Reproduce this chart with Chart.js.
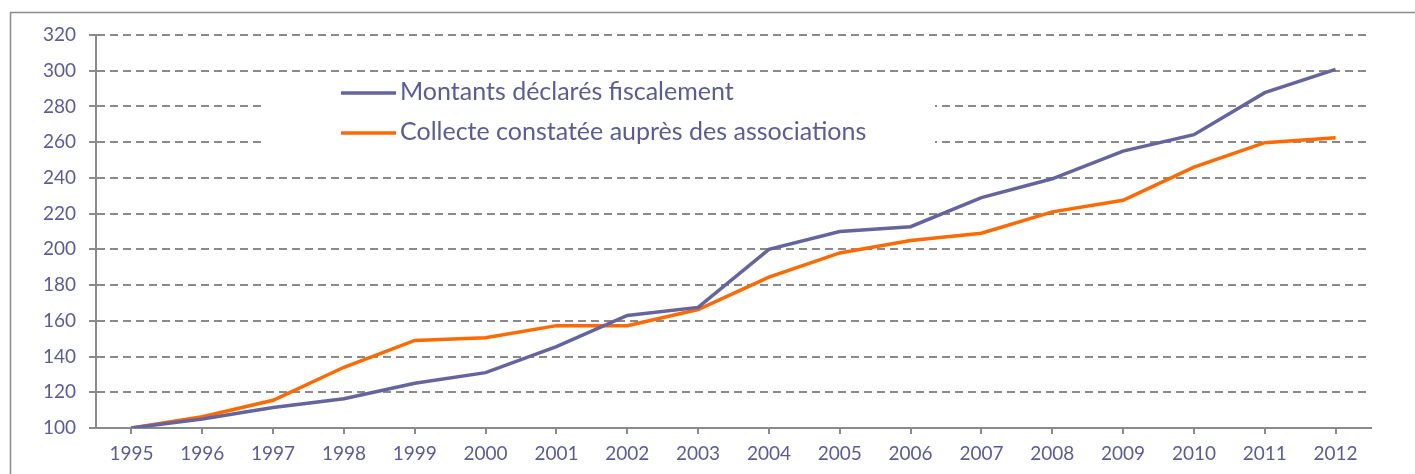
<!DOCTYPE html>
<html>
<head>
<meta charset="utf-8">
<script src="https://cdn.jsdelivr.net/npm/chart.js@4"></script>
<style>
  html, body { margin: 0; padding: 0; background: #fff; }
  #wrap { width: 1415px; height: 474px; position: relative; }
</style>
</head>
<body>
<div id="wrap"><canvas id="chart"></canvas></div>
<script>
// ── data (index, 1995 = 100) ──
const years = ['1995','1996','1997','1998','1999','2000','2001','2002','2003',
               '2004','2005','2006','2007','2008','2009','2010','2011','2012'];
const montants = [100, 105, 111.5, 116.4, 125, 131, 145.5, 163, 167.5,
                  200, 210, 212.7, 229, 239.5, 255, 264.2, 287.7, 300.8];
const collecte = [100, 106.3, 115.5, 134, 149, 150.5, 157.3, 157.3, 166.3,
                  184.5, 198, 205, 209, 221, 227.5, 246, 259.7, 262.5];
const yTicks = [100, 120, 140, 160, 180, 200, 220, 240, 260, 280, 300, 320];

const TXT = '#5b5b97';
const AXIS = '#8a8a8a';
const FONT = 'Lato, "Open Sans", sans-serif';

// frame round the whole figure + white legend panel over the grid
const framePlugin = {
  id: 'frame',
  beforeDraw(chart) {
    const c = chart.ctx;
    c.save();
    c.strokeStyle = '#8c8c8c';
    c.lineWidth = 1.5;
    c.strokeRect(10.5, 12.5, 1600, 800);
    c.restore();
  },
  beforeDatasetsDraw(chart) {
    const c = chart.ctx;
    c.save();
    c.fillStyle = '#fff';
    c.fillRect(265, 78, 670, 76);
    c.font = '25px ' + FONT;
    c.textBaseline = 'middle';
    const rows = [93, 133];
    chart.data.datasets.forEach((ds, i) => {
      c.strokeStyle = ds.borderColor;
      c.lineWidth = 3.5;
      c.beginPath();
      c.moveTo(341, rows[i]);
      c.lineTo(396, rows[i]);
      c.stroke();
      c.fillStyle = TXT;
      c.fillText(ds.label, 400, rows[i] - 1);
    });
    c.restore();
  }
};

new Chart(document.getElementById('chart'), {
  type: 'line',
  data: {
    labels: years,
    datasets: [{
      label: 'Montants déclarés fiscalement',
      data: montants,
      borderColor: '#64649e',
      borderWidth: 3.5,
      pointRadius: 0,
      tension: 0,
      fill: false,
    }, {
      label: 'Collecte constatée auprès des associations',
      data: collecte,
      borderColor: '#ff6a00',
      borderWidth: 3.5,
      pointRadius: 0,
      tension: 0,
      fill: false,
    }]
  },
  options: {
    responsive: true, maintainAspectRatio: false, animation: false,
    layout: { padding: { top: 35, right: 44, left: 0, bottom: 0 } },
    plugins: { legend: { display: false }, tooltip: { enabled: false } },
    scales: {
      x: {
        offset: true,
        grid: { drawOnChartArea: false, drawTicks: true, tickLength: 6, color: AXIS, lineWidth: 2 },
        border: { color: AXIS, width: 2 },
        ticks: { color: TXT, font: { family: FONT, size: 19 }, padding: 8, maxRotation: 0 },
        afterFit: s => { s.height = 46; }
      },
      y: {
        min: 100, max: 320,
        afterBuildTicks: s => { s.ticks = yTicks.map(v => ({ value: v })); },
        grid: { color: AXIS, lineWidth: 2, tickLength: 7 },
        border: { color: AXIS, width: 2, dash: [8, 5] },
        ticks: { color: TXT, font: { family: FONT, size: 19 }, padding: 13 },
        afterFit: s => { s.width = 96; }
      }
    }
  },
  plugins: [framePlugin]
});
</script>
</body>
</html>
